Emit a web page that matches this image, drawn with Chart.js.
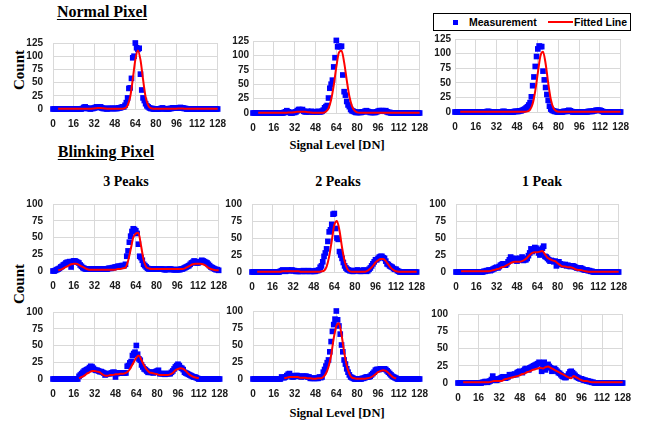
<!DOCTYPE html>
<html>
<head>
<meta charset="utf-8">
<script src="https://cdn.jsdelivr.net/npm/chart.js@4.4.1/dist/chart.umd.min.js"></script>
<style>
  body { margin: 0; background: #fff; }
  #page { position: relative; width: 652px; height: 424px; overflow: hidden; font-family: "Liberation Serif", serif; }
  .txt { position: absolute; font-weight: bold; white-space: nowrap; color: #000; line-height: 1; transform: translate(-50%, -50%); }
  .head { font-size: 16px; text-decoration: underline; text-underline-offset: 2px; }
  .sub { font-size: 14px; }
  .axis { font-size: 12.5px; }
  .count { font-size: 15px; transform: translate(-50%, -50%) rotate(-90deg); }
  .panel { position: absolute; }
  #legend { position: absolute; left: 433px; top: 13px; width: 198px; height: 18px; box-sizing: border-box; border: 1px solid #000;
            font: bold 10.5px "Liberation Sans", Arial, sans-serif; color: #000; }
  #legend span { position: absolute; top: 2px; }
</style>
</head>
<body>
<div id="page">
  <div class="txt head" style="left:102px; top:12px;">Normal Pixel</div>
  <div class="txt head" style="left:106px; top:152px;">Blinking Pixel</div>
  <div class="txt sub" style="left:126px; top:182px;">3 Peaks</div>
  <div class="txt sub" style="left:338px; top:182px;">2 Peaks</div>
  <div class="txt sub" style="left:542px; top:182px;">1 Peak</div>
  <div class="txt axis" style="left:337px; top:145px;">Signal Level [DN]</div>
  <div class="txt axis" style="left:337px; top:413px;">Signal Level [DN]</div>
  <div class="txt count" style="left:19px; top:70px;">Count</div>
  <div class="txt count" style="left:19px; top:284px;">Count</div>
  <div id="legend">
    <div style="position:absolute; left:19px; top:6px; width:5px; height:5px; background:#0000ff;"></div>
    <span style="left:35px;">Measurement</span>
    <div style="position:absolute; left:114px; top:7px; width:25px; height:2px; background:#ff0000;"></div>
    <span style="left:140px;">Fitted Line</span>
  </div>
</div>
<script>
// axis ticks
const xTicks = [0, 16, 32, 48, 64, 80, 96, 112, 128];
const yTicksNormal = [0, 25, 50, 75, 100, 125];
const yTicksBlink = [0, 25, 50, 75, 100];

// measurement: one value per DN bin (0..128), fit: sampled every 2 DN (0..128)
const signalLevel = Array.from({ length: 129 }, (_, i) => i);
const fitLevel = Array.from({ length: 65 }, (_, i) => i * 2);

// ---- Normal pixel ----
const normA = [
  0,0,0,0,0,0,0,0,0,0,0,0,0,0,0,0,
  0,0,0,0,0,0,0,1,3,4,2,1,1,0,1,1,
  2,3,4,3,3,4,2,1,1,1,0,1,1,1,1,1,
  1,1,1,2,2,3,4,4,7,12,21,39,40,58,97,100,
  125,116,113,115,66,36,21,16,10,6,4,2,1,1,0,0,
  0,0,0,0,1,2,1,0,0,0,0,1,1,2,2,2,
  2,2,2,3,2,2,1,1,0,0,0,0,0,0,0,0,
  0,0,0,0,0,0,0,0,0,0,0,0,0,0,0,0,
  0];
const normAFit = [
  null,null,.5,.5,.5,.5,.5,.5,
  .5,.5,.5,.5,.5,.5,.5,.5,
  1,1.5,2,1.5,1,.5,.5,.5,
  .5,.5,.5,.5,1.5,7,23,56,
  93,111,93,56,23,7,1.5,.5,
  .5,.5,.5,.5,.5,.5,.5,.5,
  .5,1,1,.5,.5,.5,.5,.5,
  .5,.5,.5,.5,.5,.5,.5,.5,
  .5];

const normB = [
  0,0,0,0,0,0,0,0,0,0,0,0,0,0,0,0,
  0,0,0,0,0,0,0,0,1,2,4,2,1,0,0,1,
  1,2,4,6,6,5,6,3,2,2,3,2,2,3,2,2,
  2,2,3,2,2,3,5,9,11,13,26,43,50,57,80,96,
  126,115,116,115,116,66,37,31,20,14,11,6,4,3,2,1,
  1,1,1,1,2,2,3,4,3,2,1,1,1,1,1,2,
  3,4,4,4,4,3,4,2,1,1,0,0,0,0,0,0,
  0,0,0,0,0,0,0,0,0,0,0,0,0,0,0,0,
  0];
const normBFit = [
  null,null,.5,.5,.5,.5,.5,.5,
  .5,.5,.5,.5,.5,.5,1,1,
  1.5,2,2,2,2,1.5,1,.5,
  .5,.5,.5,.5,2.5,8,23,48,
  80,105,108,88,57,29,12,4,
  1,.5,.5,.5,.5,.5,.5,.5,
  .5,.5,.5,.5,.5,.5,.5,.5,
  .5,.5,.5,.5,.5,.5,.5,.5,
  .5];

const normC = [
  0,0,0,0,0,0,0,0,0,0,0,0,0,0,0,0,
  0,0,0,0,0,0,0,0,0,1,1,0,0,0,0,0,
  0,0,0,0,0,1,1,0,0,0,0,0,0,0,1,1,
  1,1,2,2,3,4,5,7,9,12,16,26,45,60,78,95,
  108,113,112,112,70,55,42,30,20,10,5,3,2,1,1,0,
  0,0,0,0,1,1,1,2,3,2,1,0,0,0,0,0,
  0,0,0,0,0,0,0,1,1,1,1,2,2,3,3,3,
  3,2,1,0,0,0,0,0,0,0,0,0,0,0,0,0,
  0];
const normCFit = [
  null,null,.5,.5,.5,.5,.5,.5,
  .5,.5,.5,.5,.5,.5,.5,.5,
  .5,.5,.5,.5,.5,.5,.5,.5,
  .5,.5,.5,.5,1,4,14,36,
  67,96,103,83,50,22,7,2,
  .5,.5,.5,.5,.5,.5,.5,.5,
  .5,.5,.5,.5,.5,.5,.5,.5,
  .5,.5,.5,.5,.5,.5,.5,.5,
  .5];

// ---- Blinking pixel, upper row ----
const peaks3A = [
  0,0,1,2,3,4,6,7,9,10,12,13,13,14,6,14,
  15,15,14,13,12,9,7,5,4,3,3,3,3,3,3,3,
  3,3,3,3,3,3,3,3,3,3,3,4,4,4,5,5,
  6,6,7,7,7,8,8,8,10,22,30,43,52,59,63,62,
  60,56,40,22,20,16,10,8,6,4,3,3,3,3,3,3,
  3,3,3,3,3,3,2,2,2,3,3,3,2,2,2,2,
  2,2,2,3,3,4,5,6,7,8,10,12,13,15,14,12,
  12,13,14,16,15,14,13,12,10,8,6,5,4,3,2,2,
  1];
const peaks3AFit = [
  null,null,1,2,4,6,8,10,
  11,11,9,7,5,3,2,2,
  2,2,2,2,2,2,2,2,
  2,3,3,4,5,15,32,50,
  56,57,38,17,6,4,3,3,
  3,3,3,3,3,3,3,3,
  3,3,3,4,6,8,10,11,
  11,11,10,8,5,3,2,1,
  1];

const peaks2A = [
  0,0,0,0,0,0,0,0,0,0,0,0,0,0,0,0,
  0,0,0,0,0,0,1,2,3,2,1,2,3,2,2,3,
  2,2,1,1,1,1,1,1,2,1,1,1,2,1,1,1,
  1,1,2,2,3,7,9,15,23,28,34,45,59,62,70,85,
  86,64,50,48,30,25,20,14,9,6,4,3,2,2,1,1,
  2,2,3,2,1,1,2,3,2,1,2,4,6,9,12,15,
  18,18,20,22,23,23,21,20,16,12,11,9,8,7,5,4,
  4,2,1,0,0,0,0,0,0,0,0,0,0,0,0,0,
  0];
const peaks2AFit = [
  null,null,.5,.5,.5,.5,.5,.5,
  .5,.5,.5,.5,1,1,1,1,
  1,1,1,.5,.5,.5,.5,.5,
  .5,.5,.5,1,2,8,23,46,
  69,75,61,36,16,5,1,.5,
  .5,.5,.5,.5,.5,2,5,9,
  14,17,19,19,16,11,6,3,
  1,.5,.5,.5,.5,.5,.5,.5,
  .5];

const peaks1A = [
  0,0,0,0,0,0,0,0,0,0,0,0,0,0,0,0,
  0,0,0,0,0,0,1,1,2,2,3,2,3,4,5,6,
  7,6,8,10,11,12,11,10,12,15,18,22,20,17,18,20,
  16,18,20,19,22,17,18,18,20,24,28,34,30,32,36,35,
  33,28,25,30,35,38,23,22,20,18,16,17,16,15,16,9,
  13,15,12,11,11,10,11,9,10,9,8,9,9,8,7,6,
  6,5,6,5,4,3,3,3,2,2,1,1,0,0,0,0,
  0,0,0,0,0,0,0,0,0,0,0,0,0,0,0,0,
  0];
const peaks1AFit = [
  null,null,1,1,1,1,1,1,
  1,1,1,1,1,1,2,3,
  4,5,7,8,10,12,14,15,
  15,15,16,18,21,25,28,29,
  29,30,31,26,21,19,17,16,
  13,10,8,8,7,7,6,4,
  3,3,2,1,.5,.5,.5,.5,
  .5,.5,.5,.5,.5,.5,.5,.5,
  .5];

// ---- Blinking pixel, lower row ----
const peaks3B = [
  0,0,0,0,0,0,0,0,0,0,0,0,0,0,0,0,
  0,0,0,0,4,6,8,10,12,13,14,15,17,19,18,16,
  14,13,13,12,11,11,10,9,6,7,8,8,8,9,10,10,
  3,8,9,9,9,9,9,9,9,19,20,24,26,35,38,40,
  50,37,30,28,21,18,15,14,12,10,10,10,10,9,10,11,
  12,13,8,8,8,8,7,8,8,8,8,10,12,15,18,20,
  22,20,17,16,14,10,9,8,7,6,5,4,3,3,2,1,
  0,0,0,0,0,0,0,0,0,0,0,0,0,0,0,0,
  0];
const peaks3BFit = [
  null,null,null,null,null,null,null,null,
  null,null,1,3,5,8,10,12,
  12,11,10,7,5,5,6,6,
  7,7,8,8,9,12,18,25,
  32,35,28,20,14,10,9,8,
  7,6,6,6,6,7,9,13,
  15,16,15,12,8,5,3,2,
  1,null,null,null,null,null,null,null,
  null];

const peaks2B = [
  0,0,0,0,0,0,0,0,0,0,0,0,0,0,0,0,
  0,0,0,0,0,0,3,2,2,3,5,7,8,5,3,3,
  4,5,5,4,4,3,4,4,4,4,3,3,1,1,1,1,
  1,1,1,3,2,3,10,14,19,24,28,40,55,70,80,88,
  100,87,78,66,50,40,28,22,15,10,6,3,2,1,0,0,
  0,0,0,0,1,1,2,3,3,3,4,6,8,10,13,14,
  14,14,15,15,15,15,14,12,10,8,6,4,3,2,1,0,
  0,0,0,0,0,0,0,0,0,0,0,0,0,0,0,0,
  0];
const peaks2BFit = [
  null,null,null,null,null,null,null,null,
  null,null,null,null,1,2,3,3,
  3,3,2,2,2,1,1,.5,
  .5,1,1,3,8,18,35,60,
  78,82,65,40,20,8,2,1,
  .5,.5,.5,.5,1,2,4,7,
  10,12,13,12,9,5,2,1,
  null,null,null,null,null,null,null,null,
  null];

const peaks1B = [
  0,0,0,0,0,0,0,0,0,0,0,0,0,0,0,0,
  0,0,0,1,1,2,2,1,2,3,5,10,6,4,4,5,
  6,7,8,9,8,7,8,9,12,11,12,12,13,12,15,16,
  17,16,15,18,20,21,20,19,22,23,24,25,26,27,28,30,
  29,17,25,30,19,25,27,24,22,17,20,21,19,17,15,14,
  12,10,9,8,8,10,13,16,17,15,13,11,9,8,7,6,
  6,5,4,4,3,3,2,2,1,1,0,0,0,0,0,0,
  0,0,0,0,0,0,0,0,0,0,0,0,0,0,0,0,
  0];
const peaks1BFit = [
  null,null,1,1,1,1,1,1,
  1,1,1,1,1,2,3,3,
  3,3,5,6,7,8,9,10,
  11,13,14,16,17,19,20,21,
  22,21,23,24,22,20,18,16,
  14,12,10,8,7,10,8,6,
  4,3,3,2,1,1,1,1,
  1,1,1,1,1,1,1,1,
  1];

// plot-area boxes (page pixels) for each small chart
const panels = [
  { meas: normA,   fit: normAFit,   yTicks: yTicksNormal, yPad: 10, box: { left: 53,  right: 219, top: 37,  bottom: 109 } },
  { meas: normB,   fit: normBFit,   yTicks: yTicksNormal, yPad: 4,  box: { left: 253, right: 421, top: 41,  bottom: 113 } },
  { meas: normC,   fit: normCFit,   yTicks: yTicksNormal, yPad: 4,  box: { left: 455, right: 622, top: 39,  bottom: 112 } },
  { meas: peaks3A, fit: peaks3AFit, yTicks: yTicksBlink,  yPad: 10, box: { left: 53,  right: 220, top: 198, bottom: 271 } },
  { meas: peaks2A, fit: peaks2AFit, yTicks: yTicksBlink,  yPad: 10, box: { left: 252, right: 418, top: 198, bottom: 272 } },
  { meas: peaks1A, fit: peaks1AFit, yTicks: yTicksBlink,  yPad: 10, box: { left: 456, right: 620, top: 198, bottom: 272 } },
  { meas: peaks3B, fit: peaks3BFit, yTicks: yTicksBlink,  yPad: 10, box: { left: 53,  right: 221, top: 306, bottom: 379 } },
  { meas: peaks2B, fit: peaks2BFit, yTicks: yTicksBlink,  yPad: 10, box: { left: 253, right: 421, top: 305, bottom: 379 } },
  { meas: peaks1B, fit: peaks1BFit, yTicks: yTicksBlink,  yPad: 10, box: { left: 458, right: 624, top: 308, bottom: 383 } }
];

const tickFont = { family: '"Liberation Sans", Arial, sans-serif', size: 10, weight: 'bold' };
const gridColor = '#d9d9d9';

function makeChart(p) {
  const padTop = 10, padRight = 16, yW = 40, xH = 26;
  const page = document.getElementById('page');
  const wrap = document.createElement('div');
  wrap.className = 'panel';
  wrap.style.left = (p.box.left - yW) + 'px';
  wrap.style.top = (p.box.top - padTop) + 'px';
  wrap.style.width = (p.box.right - p.box.left + yW + padRight) + 'px';
  wrap.style.height = (p.box.bottom - p.box.top + padTop + xH) + 'px';
  const canvas = document.createElement('canvas');
  wrap.appendChild(canvas);
  page.appendChild(wrap);

  new Chart(canvas, {
    type: 'scatter',
    data: {
      datasets: [
        {
          type: 'line',
          data: fitLevel.map((x, i) => ({ x: x, y: p.fit[i] })),
          borderColor: '#ff0000',
          borderWidth: 2,
          pointRadius: 0,
          cubicInterpolationMode: 'monotone',
          spanGaps: false,
          fill: false,
          clip: false
        },
        {
          type: 'scatter',
          data: signalLevel.map((x, i) => ({ x: x, y: p.meas[i] })),
          pointStyle: 'rect',
          pointRadius: 4,
          backgroundColor: '#0000ff',
          borderWidth: 0,
          clip: false
        }
      ]
    },
    options: {
      responsive: true,
      maintainAspectRatio: false,
      animation: false,
      layout: { padding: { top: padTop, right: padRight, left: 0, bottom: 0 } },
      plugins: { legend: { display: false }, tooltip: { enabled: false } },
      scales: {
        x: {
          type: 'linear', min: 0, max: 128,
          afterBuildTicks: s => { s.ticks = xTicks.map(v => ({ value: v })); },
          afterFit: s => { s.height = xH; },
          grid: { color: gridColor, drawTicks: false },
          border: { color: gridColor },
          ticks: { padding: 9, font: tickFont, color: '#1a1a1a', maxRotation: 0, autoSkip: false }
        },
        y: {
          min: 0, max: p.yTicks[p.yTicks.length - 1],
          afterBuildTicks: s => { s.ticks = p.yTicks.map(v => ({ value: v })); },
          afterFit: s => { s.width = yW; },
          grid: { color: gridColor, drawTicks: false },
          border: { color: gridColor },
          ticks: { padding: p.yPad, font: tickFont, color: '#1a1a1a', autoSkip: false }
        }
      }
    }
  });
}

panels.forEach(makeChart);
</script>
</body>
</html>
